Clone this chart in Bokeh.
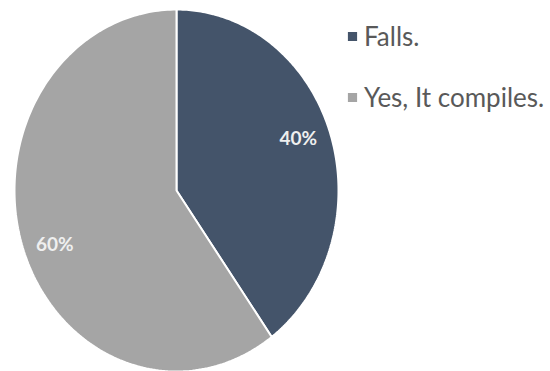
import numpy as np
from bokeh.plotting import figure
from bokeh.models import Legend, LegendItem, ColumnDataSource
from bokeh.core.properties import value
from bokeh.embed import file_html
from bokeh.resources import INLINE

categories = ["Falls.", "Yes, It compiles."]
shares = [40, 60]
colors = ["#44546A", "#A5A5A5"]
pct_labels = ["40%", "60%"]

W, H = 550, 371
cx, cy, rx, ry = 176, 190, 162, 181  # pixel geometry of the pie

p = figure(width=W, height=H, output_backend="svg", toolbar_location=None,
           x_range=(-cx / rx, (W - cx) / rx), y_range=((cy - H) / ry, cy / ry),
           min_border=0)
p.axis.visible = False
p.grid.visible = False
p.outline_line_color = None
p.background_fill_color = "white"
p.border_fill_color = "white"

total = float(sum(shares))
start = 0.0
renderers = []
lx, ly = [], []
for cat, s, c in zip(categories, shares, colors):
    end = start + s / total
    th = np.linspace(start, end, 200) * 2 * np.pi  # clockwise from top
    xs = np.concatenate([[0], np.sin(th), [0]])
    ys = np.concatenate([[0], np.cos(th), [0]])
    r = p.patch(xs, ys, fill_color=c, line_color="white", line_width=2)
    renderers.append((cat, r))
    mid = (start + end) / 2 * 2 * np.pi
    lx.append(0.79 * np.sin(mid))
    ly.append(0.95 * np.cos(mid))
    start = end

src = ColumnDataSource(dict(x=lx, y=ly, t=pct_labels))
p.text("x", "y", text="t", source=src, text_align="center", text_baseline="middle",
       text_font=value("Lato"), text_font_style="bold", text_font_size="19px",
       text_color="#EFEFEF")

legend = Legend(items=[LegendItem(label=cat, renderers=[r]) for cat, r in renderers],
                location=(345, 258), orientation="vertical",
                glyph_width=14, glyph_height=14, label_standoff=5,
                label_text_font="Lato", label_text_font_size="26px",
                label_text_color="#595959", label_height=28, spacing=29,
                padding=0, margin=0, border_line_color=None,
                background_fill_alpha=0)
p.add_layout(legend)

open("out.html", "w").write(file_html(p, INLINE))
